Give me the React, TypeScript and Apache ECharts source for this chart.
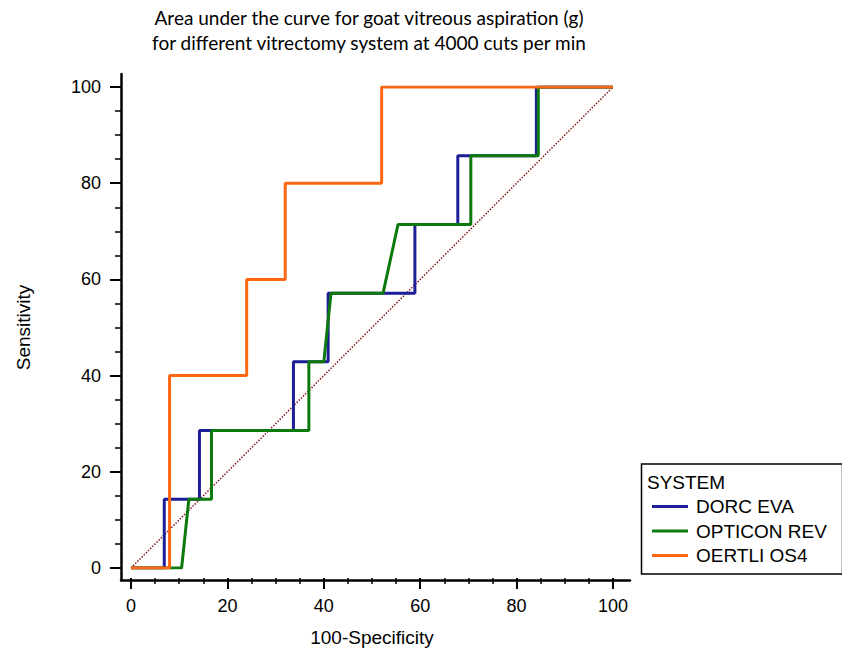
import React, { useEffect, useRef } from "react";
import * as echarts from "echarts";

const titleLines = [
  "Area under the curve for goat vitreous aspiration (g)",
  "for different vitrectomy system at 4000 cuts per min",
];
const xAxisTitle = "100-Specificity";
const yAxisTitle = "Sensitivity";
const legendTitle = "SYSTEM";
const seriesNames = ["DORC EVA", "OPTICON REV", "OERTLI OS4"];
const seriesColors = ["#1e1e98", "#0c790c", "#ff6611"];

const dorcX = [0, 6.9, 6.9, 14.2, 14.2, 33.7, 33.7, 40.9, 40.9, 58.9, 58.9, 67.8, 67.8, 84.1, 84.1, 100];
const dorcY = [0, 0, 14.29, 14.29, 28.57, 28.57, 42.86, 42.86, 57.14, 57.14, 71.43, 71.43, 85.71, 85.71, 100, 100];

const opticonX = [0, 10.5, 12.0, 16.7, 16.7, 36.9, 36.9, 40.0, 41.5, 52.3, 55.4, 70.5, 70.5, 84.5, 84.5, 100];
const opticonY = [0, 0, 14.29, 14.29, 28.57, 28.57, 42.86, 42.86, 57.14, 57.14, 71.43, 71.43, 85.71, 85.71, 100, 100];

const oertliX = [0, 8, 8, 24, 24, 32, 32, 52, 52, 100];
const oertliY = [0, 0, 40, 40, 60, 60, 80, 80, 100, 100];

const refX = [0, 100];
const refY = [0, 100];

const zip = (xs: number[], ys: number[]) => xs.map((x, i) => [x, ys[i]]);

const FONT = "Liberation Sans, Arial, sans-serif";

export default function App() {
  const ref = useRef<HTMLDivElement>(null);
  useEffect(() => {
    if (!ref.current) return;
    const chart = echarts.init(ref.current, undefined, { renderer: "svg" });
    const dataAxisCommon = {
      type: "value" as const,
      min: 0,
      max: 100,
      interval: 20,
      gridIndex: 0,
      axisLine: { show: false, onZero: false },
      axisTick: { show: true, inside: false, length: 11, lineStyle: { color: "#000", width: 2 } },
      minorTick: { show: true, splitNumber: 4, length: 6, lineStyle: { color: "#000", width: 1.5 } },
      splitLine: { show: false },
      minorSplitLine: { show: false },
      nameLocation: "middle" as const,
      nameTextStyle: { fontFamily: FONT, fontSize: 19, color: "#000" },
    };
    const lineAxisCommon = {
      type: "value" as const,
      min: 0,
      max: 1,
      gridIndex: 1,
      axisLine: { show: true, onZero: false, lineStyle: { color: "#000", width: 2.5 } },
      axisTick: { show: false },
      axisLabel: { show: false },
      splitLine: { show: false },
    };
    const option: any = {
      animation: false,
      backgroundColor: "#fff",
      grid: [
        { left: 131, top: 87, width: 482, height: 483 },
        { left: 121, top: 74, width: 509, height: 506 },
      ],
      xAxis: [
        {
          ...dataAxisCommon,
          offset: 10,
          name: xAxisTitle,
          nameGap: 50,
          axisLabel: { margin: 19, fontFamily: FONT, fontSize: 18, color: "#000" },
        },
        { ...lineAxisCommon },
      ],
      yAxis: [
        {
          ...dataAxisCommon,
          offset: 10,
          name: yAxisTitle,
          nameGap: 88,
          nameRotate: 90,
          axisLabel: { margin: 20, fontFamily: FONT, fontSize: 18, color: "#000" },
        },
        { ...lineAxisCommon },
      ],
      legend: {
        data: seriesNames,
        orient: "vertical",
        left: 652,
        top: 497,
        icon: "rect",
        itemWidth: 36,
        itemHeight: 3,
        itemGap: 5.5,
        padding: 0,
        textStyle: { fontFamily: FONT, fontSize: 19, color: "#000", padding: [0, 0, 0, 3] },
        z: 20,
      },
      graphic: [
        {
          type: "rect",
          shape: { x: 641.5, y: 464, width: 201, height: 110 },
          style: { fill: "#fff", stroke: "#000", lineWidth: 1.5 },
          z: 10,
        },
        {
          type: "text",
          x: 647,
          y: 482,
          z: 11,
          style: { text: legendTitle, font: `19px ${FONT}`, fill: "#000", verticalAlign: "middle" },
        },
        {
          type: "text",
          x: 369,
          y: 5,
          style: {
            text: titleLines.join("\n"),
            font: `19px Lato, "Open Sans", sans-serif`,
            lineHeight: 25,
            fill: "#000",
            align: "center",
            verticalAlign: "top",
          },
        },
      ],
      series: [
        {
          name: "ref",
          type: "line",
          data: zip(refX, refY),
          symbol: "none",
          lineStyle: { color: "#8b1a1a", width: 1.5, type: "dotted" },
          z: 1,
        },
        ...[
          [dorcX, dorcY],
          [opticonX, opticonY],
          [oertliX, oertliY],
        ].map(([xs, ys], i) => ({
          name: seriesNames[i],
          type: "line",
          data: zip(xs, ys),
          symbol: "none",
          color: seriesColors[i],
          lineStyle: { color: seriesColors[i], width: 3 },
          z: 2 + i,
        })),
      ],
    };
    chart.setOption(option);
    return () => chart.dispose();
  }, []);
  return (
    <div
      ref={ref}
      style={{ position: "fixed", left: 0, top: 0, width: 842, height: 652, background: "#fff" }}
    />
  );
}
